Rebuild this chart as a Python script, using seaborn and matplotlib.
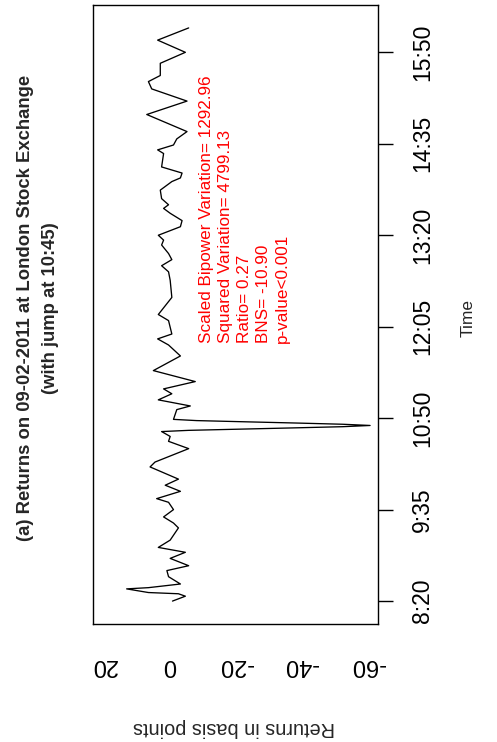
import matplotlib
matplotlib.use("Agg")
import matplotlib.pyplot as plt
import seaborn as sns
import pandas as pd

# minutes after 8:20 and returns (basis points)
minutes = [0, 4, 6, 7, 10, 11, 14, 20, 25, 29, 35, 40, 44, 50, 60, 64, 69, 75,
           81, 84, 90, 95, 100, 110, 114, 125, 131, 135, 139, 140, 141, 142,
           143, 144, 145, 146, 147, 148, 149, 157, 160, 165, 170, 174, 180,
           189, 201, 210, 215, 219, 230, 235, 249, 263, 270, 275, 280, 285,
           292, 296, 300, 307, 312, 318, 322, 325, 330, 337, 344, 347, 351,
           356, 367, 370, 374, 379, 385, 399, 410, 420, 426, 431, 441, 450,
           460, 470]
returns = [-0.9, -4.8, -2.7, 6.4, 13.0, 6.4, -3.3, 0.3, 0.8, -5.8, -0.2, -4.8,
           3.4, -0.2, -2.7, -1.2, 1.8, -1.2, 0.3, 3.9, -3.3, 1.3, -2.7, 5.9,
           4.4, -5.8, 0.3, -0.2, 2.4, -5.8, -21.6, -37.3, -52.5, -60.8, -52.5,
           -38.4, -23.1, -8.2, -1.2, -2.2, -6.3, 3.4, -0.7, 1.8, -7.8, 4.9,
           -3.3, 0.3, 3.6, -0.7, 0.3, 3.4, -0.7, -0.2, 0.3, 2.4, -0.7, 0.3,
           2.4, 1.8, 3.4, -3.3, -3.8, -0.2, 1.8, 0.3, 2.4, 2.8, -0.7, -3.3,
           -3.8, 2.4, 1.8, 3.6, -1.2, -2.2, -5.3, 6.9, -5.3, 5.4, 6.4, 2.8,
           2.8, -4.8, 3.6, -5.8]

time_labels = ["8:20", "9:35", "10:50", "12:05", "13:20", "14:35", "15:50"]
return_ticks = [20, 0, -20, -40, -60]
stats_lines = ["Scaled Bipower Variation= 1292.96",
               "Squared Variation= 4799.13",
               "Ratio= 0.27",
               "BNS= -10.90",
               "p-value<0.001"]

start = 8 * 60 + 20
df = pd.DataFrame({"clock": [start + m for m in minutes], "ret": returns})
tick_pos = [int(s.split(":")[0]) * 60 + int(s.split(":")[1]) for s in time_labels]

sns.set_style("white")
plt.rcParams["font.family"] = ["Liberation Sans", "DejaVu Sans"]

W, H = 497, 742
fig = plt.figure(figsize=(W / 100, H / 100), dpi=100)
ax = fig.add_axes([93 / W, 1 - 624 / H, 285 / W, 619 / H])

sns.lineplot(data=df, x="ret", y="clock", orient="y", sort=False,
             estimator=None, color="black", linewidth=0.95, ax=ax)

# R style 4% padding, returns axis runs right-to-left
span = df["clock"].max() - df["clock"].min()
ax.set_ylim(df["clock"].min() - 0.04 * span, df["clock"].max() + 0.04 * span)
ax.set_xlim(20 + 0.04 * 80, -60 - 0.04 * 80)

for sp in ax.spines.values():
    sp.set_color("black")
    sp.set_linewidth(1)

ax.set_yticks(tick_pos)
ax.set_yticklabels(time_labels, rotation=90, va="center", fontsize=16.5)
ax.yaxis.tick_right()
ax.tick_params(axis="y", direction="out", length=10.8, width=1, pad=13,
               colors="black")

ax.set_xticks(return_ticks)
ax.set_xticklabels([str(v) for v in return_ticks], rotation=180, fontsize=17)
ax.tick_params(axis="x", direction="out", length=10.8, width=1, pad=11,
               colors="black")
ax.set_xlabel("")
ax.set_ylabel("")

for k, line in enumerate(stats_lines):
    ax.text(-11.3 - 5.71 * k, start + 212, line, rotation=90,
            rotation_mode="anchor", ha="left", va="center",
            color="red", fontsize=12.3)

fig.text(26 / W, 1 - 308 / H, "(a) Returns on 09-02-2011 at London Stock Exchange",
         rotation=90, ha="center", va="center", fontsize=13.3, fontweight="bold")
fig.text(51 / W, 1 - 308 / H, "(with jump at 10:45)",
         rotation=90, ha="center", va="center", fontsize=13.3, fontweight="bold")
fig.text(468 / W, 1 - 318 / H, "Time", rotation=90, ha="center", va="center",
         fontsize=12.5)
fig.text(234 / W, 1 - 727 / H, "Returns in basis points", rotation=180,
         ha="center", va="center", fontsize=14.3)

fig.savefig("out.png", dpi=100)
